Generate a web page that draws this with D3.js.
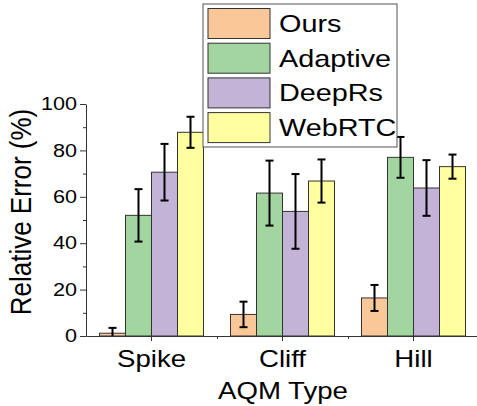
<!DOCTYPE html>
<html>
<head>
<meta charset="utf-8">
<script src="https://cdn.jsdelivr.net/npm/d3@7"></script>
<style>
  body { margin: 0; background: #fff; }
  text { font-family: Arial, "Liberation Sans", sans-serif; fill: #000; }
</style>
</head>
<body>
<div id="chart"></div>
<script>
// categories and series
const categories = ['Spike', 'Cliff', 'Hill'];
const seriesNames = ['Ours', 'Adaptive', 'DeepRs', 'WebRTC'];
const seriesColors = ['#fac898', '#a2d59f', '#c3b3d7', '#ffffa0'];

// mean relative error (%) per category
const ours      = [1.2, 9.3, 16.4];
const adaptive  = [52, 61.6, 77];
const deepRs    = [70.6, 53.7, 63.8];
const webRTC    = [87.8, 66.8, 73];

// error bar half-lengths
const oursErr     = [2.3, 5.5, 5.6];
const adaptiveErr = [11.3, 14, 8.8];
const deepRsErr   = [12.2, 16.1, 12];
const webRTCErr   = [6.7, 9.3, 5.2];

const yTicks = [0, 20, 40, 60, 80, 100];
const yMinorTicks = [10, 30, 50, 70, 90];

const values = [ours, adaptive, deepRs, webRTC];
const errs = [oursErr, adaptiveErr, deepRsErr, webRTCErr];

const width = 477, height = 406;
const SX = 1.2; // glyphs in the picture are a bit wide

const svg = d3.select('#chart').append('svg')
  .attr('width', width)
  .attr('height', height);

const x = d3.scaleBand().domain(categories).range([86, 479]);
const xs = d3.scaleBand().domain(seriesNames).range([-52, 52]);
const y = d3.scaleLinear().domain([0, 100]).range([336, 104]);

// bars
const rows = [];
seriesNames.forEach((s, i) => {
  categories.forEach((c, j) => {
    rows.push({ s, c, i, v: values[i][j], e: errs[i][j] });
  });
});

const g = svg.append('g');
g.selectAll('.bar')
  .data(rows)
  .enter().append('rect')
  .attr('class', 'bar')
  .attr('x', d => x(d.c) + x.bandwidth() / 2 + xs(d.s))
  .attr('y', d => y(d.v))
  .attr('width', xs.bandwidth())
  .attr('height', d => y(0) - y(d.v))
  .style('fill', d => seriesColors[d.i])
  .style('stroke', '#333')
  .style('stroke-width', 1);

// error bars
const eb = g.selectAll('.err')
  .data(rows)
  .enter().append('g')
  .attr('class', 'err')
  .attr('transform', d => `translate(${x(d.c) + x.bandwidth() / 2 + xs(d.s) + xs.bandwidth() / 2},0)`);
eb.append('line')
  .attr('y1', d => y(d.v + d.e))
  .attr('y2', d => y(Math.max(0, d.v - d.e)))
  .style('stroke', '#000').style('stroke-width', 2);
eb.append('line')
  .attr('x1', -4).attr('x2', 4)
  .attr('y1', d => y(d.v + d.e)).attr('y2', d => y(d.v + d.e))
  .style('stroke', '#000').style('stroke-width', 2);
eb.filter(d => d.v - d.e > 0).append('line')
  .attr('x1', -4).attr('x2', 4)
  .attr('y1', d => y(d.v - d.e)).attr('y2', d => y(d.v - d.e))
  .style('stroke', '#000').style('stroke-width', 2);

// y axis
const yAxis = svg.append('g')
  .attr('transform', 'translate(86,0)')
  .call(d3.axisLeft(y).tickValues(yTicks).tickSize(6).tickSizeOuter(0).tickPadding(3));
yAxis.selectAll('text')
  .style('font-size', '18px')
  .attr('x', -9 / SX)
  .attr('transform', `scale(${SX},1)`);
svg.append('g')
  .attr('transform', 'translate(86,0)')
  .call(d3.axisLeft(y).tickValues(yMinorTicks).tickSize(3).tickFormat(''))
  .select('.domain').remove();

// x axis
const xAxis = svg.append('g')
  .attr('transform', `translate(0,${y(0)})`)
  .call(d3.axisBottom(x).tickSize(5).tickSizeOuter(0).tickPadding(4));
xAxis.selectAll('text')
  .style('font-size', '23px')
  .attr('dy', '0.95em')
  .attr('transform', function () {
    return `scale(${SX},1)`;
  })
  .attr('x', 0);
xAxis.selectAll('.tick')
  .attr('transform', d => `translate(${x(d) + x.bandwidth() / 2},0)`);
xAxis.selectAll('.tick text').attr('transform', `scale(${SX},1)`);
const xMinor = d3.scaleLinear().domain([0, 3]).range(x.range());
svg.append('g')
  .attr('transform', `translate(0,${y(0)})`)
  .call(d3.axisBottom(xMinor).tickValues([1, 2]).tickSize(3).tickFormat(''))
  .select('.domain').remove();

svg.selectAll('.domain, .tick line').style('stroke', '#333');

// axis titles
svg.append('text')
  .attr('transform', `translate(283,399) scale(${SX},1)`)
  .style('text-anchor', 'middle')
  .style('font-size', '23px')
  .text('AQM Type');

svg.append('text')
  .attr('transform', 'translate(31,212) rotate(-90) scale(1,1.15)')
  .style('text-anchor', 'middle')
  .style('font-size', '26px')
  .text('Relative Error (%)');

// legend
const legend = svg.append('g').attr('transform', 'translate(203,4)');
legend.append('rect')
  .attr('width', 194).attr('height', 143)
  .style('fill', '#fff').style('stroke', '#555').style('stroke-width', 1);
const item = legend.selectAll('.item')
  .data(seriesNames)
  .enter().append('g')
  .attr('class', 'item')
  .attr('transform', (d, i) => `translate(5,${4.5 + i * 34.7})`);
item.append('rect')
  .attr('width', 62).attr('height', 30)
  .style('fill', (d, i) => seriesColors[i])
  .style('stroke', '#333').style('stroke-width', 1);
item.append('text')
  .attr('transform', `translate(71,15) scale(${SX},1)`)
  .attr('dy', '0.35em')
  .style('font-size', '24px')
  .text(d => d);
</script>
</body>
</html>
